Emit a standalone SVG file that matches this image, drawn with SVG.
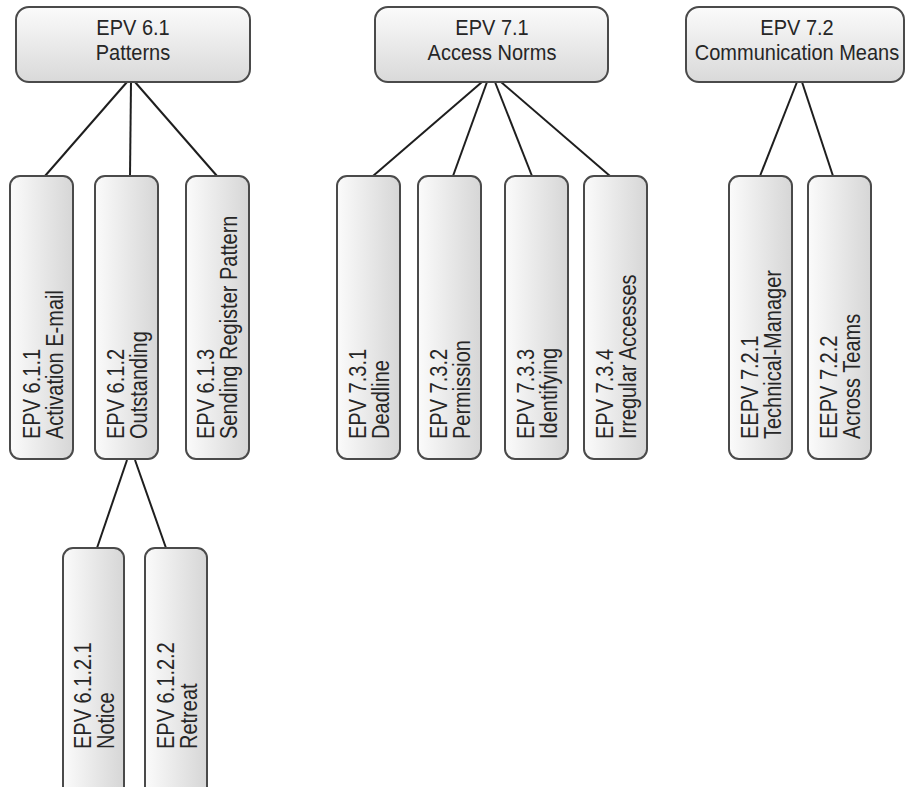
<svg xmlns="http://www.w3.org/2000/svg" width="907" height="787" viewBox="0 0 907 787">
<defs>
<linearGradient id="gv" x1="0" y1="0" x2="0" y2="1"><stop offset="0" stop-color="#fbfbfb"/><stop offset="1" stop-color="#d9d9d9"/></linearGradient>
<linearGradient id="gh" x1="0" y1="0" x2="1" y2="0"><stop offset="0" stop-color="#fbfbfb"/><stop offset="1" stop-color="#d6d6d6"/></linearGradient>
<style>
.top{fill:url(#gv);stroke:#4a4a4a;stroke-width:2}
.leaf{fill:url(#gh);stroke:#4a4a4a;stroke-width:2}
text{font-family:"Liberation Sans",Arial,sans-serif;font-size:23px;fill:#262626}
.c{text-anchor:middle;font-size:21.5px}
.conn line{stroke:#1e1e1e;stroke-width:2}
</style>
</defs>
<rect width="907" height="787" fill="#ffffff"/>
<g class="conn" id="connectors">
<line x1="127" y1="82" x2="45" y2="176"/>
<line x1="131" y1="82" x2="130" y2="176"/>
<line x1="135" y1="82" x2="217" y2="176"/>
<line x1="482" y1="82" x2="373" y2="176"/>
<line x1="487" y1="82" x2="453" y2="176"/>
<line x1="495" y1="82" x2="532" y2="176"/>
<line x1="501" y1="82" x2="610" y2="176"/>
<line x1="797" y1="82" x2="760" y2="176"/>
<line x1="802" y1="82" x2="833" y2="176"/>
<line x1="127" y1="460" x2="97" y2="548"/>
<line x1="135" y1="460" x2="166" y2="548"/>
</g>
<g id="n61"><rect class="top" x="16" y="7" width="234" height="75" rx="13"/><text class="c" transform="translate(133,0) scale(0.93,1)"><tspan x="0" y="35">EPV 6.1</tspan><tspan x="0" y="60">Patterns</tspan></text></g>
<g id="n71"><rect class="top" x="375" y="7" width="233" height="75" rx="13"/><text class="c" transform="translate(492,0) scale(0.93,1)"><tspan x="0" y="35">EPV 7.1</tspan><tspan x="0" y="60">Access Norms</tspan></text></g>
<g id="n72"><rect class="top" x="686" y="7" width="218" height="75" rx="13"/><text class="c" transform="translate(797,0) scale(0.93,1)"><tspan x="0" y="35">EPV 7.2</tspan><tspan x="0" y="60">Communication Means</tspan></text></g>
<g id="n611"><rect class="leaf" x="10" y="176" width="63" height="283" rx="10"/><text transform="translate(40,439) rotate(-90) scale(0.87,1)"><tspan x="0" y="0">EPV 6.1.1</tspan><tspan x="0" y="23">Activation E-mail</tspan></text></g>
<g id="n612"><rect class="leaf" x="95" y="176" width="63" height="283" rx="10"/><text transform="translate(124,439) rotate(-90) scale(0.87,1)"><tspan x="0" y="0">EPV 6.1.2</tspan><tspan x="0" y="23">Outstanding</tspan></text></g>
<g id="n613"><rect class="leaf" x="186" y="176" width="63" height="283" rx="10"/><text transform="translate(214,439) rotate(-90) scale(0.87,1)"><tspan x="0" y="0">EPV 6.1.3</tspan><tspan x="0" y="23">Sending Register Pattern</tspan></text></g>
<g id="n731"><rect class="leaf" x="337" y="176" width="63" height="283" rx="10"/><text transform="translate(366,439) rotate(-90) scale(0.87,1)"><tspan x="0" y="0">EPV 7.3.1</tspan><tspan x="0" y="23">Deadline</tspan></text></g>
<g id="n732"><rect class="leaf" x="418" y="176" width="63" height="283" rx="10"/><text transform="translate(447,439) rotate(-90) scale(0.87,1)"><tspan x="0" y="0">EPV 7.3.2</tspan><tspan x="0" y="23">Permission</tspan></text></g>
<g id="n733"><rect class="leaf" x="505" y="176" width="63" height="283" rx="10"/><text transform="translate(534,439) rotate(-90) scale(0.87,1)"><tspan x="0" y="0">EPV 7.3.3</tspan><tspan x="0" y="23">Identifying</tspan></text></g>
<g id="n734"><rect class="leaf" x="584" y="176" width="63" height="283" rx="10"/><text transform="translate(613,439) rotate(-90) scale(0.87,1)"><tspan x="0" y="0">EPV 7.3.4</tspan><tspan x="0" y="23">Irregular Accesses</tspan></text></g>
<g id="n721"><rect class="leaf" x="729" y="176" width="63" height="283" rx="10"/><text transform="translate(758,439) rotate(-90) scale(0.87,1)"><tspan x="0" y="0">EEPV 7.2.1</tspan><tspan x="0" y="23">Technical-Manager</tspan></text></g>
<g id="n722"><rect class="leaf" x="808" y="176" width="63" height="283" rx="10"/><text transform="translate(837,439) rotate(-90) scale(0.87,1)"><tspan x="0" y="0">EEPV 7.2.2</tspan><tspan x="0" y="23">Across Teams</tspan></text></g>
<g id="n6121"><rect class="leaf" x="63" y="548" width="61" height="283" rx="10"/><text transform="translate(91,749) rotate(-90) scale(0.87,1)"><tspan x="0" y="0">EPV 6.1.2.1</tspan><tspan x="0" y="23">Notice</tspan></text></g>
<g id="n6122"><rect class="leaf" x="145" y="548" width="62" height="283" rx="10"/><text transform="translate(174,749) rotate(-90) scale(0.87,1)"><tspan x="0" y="0">EPV 6.1.2.2</tspan><tspan x="0" y="23">Retreat</tspan></text></g>
</svg>
